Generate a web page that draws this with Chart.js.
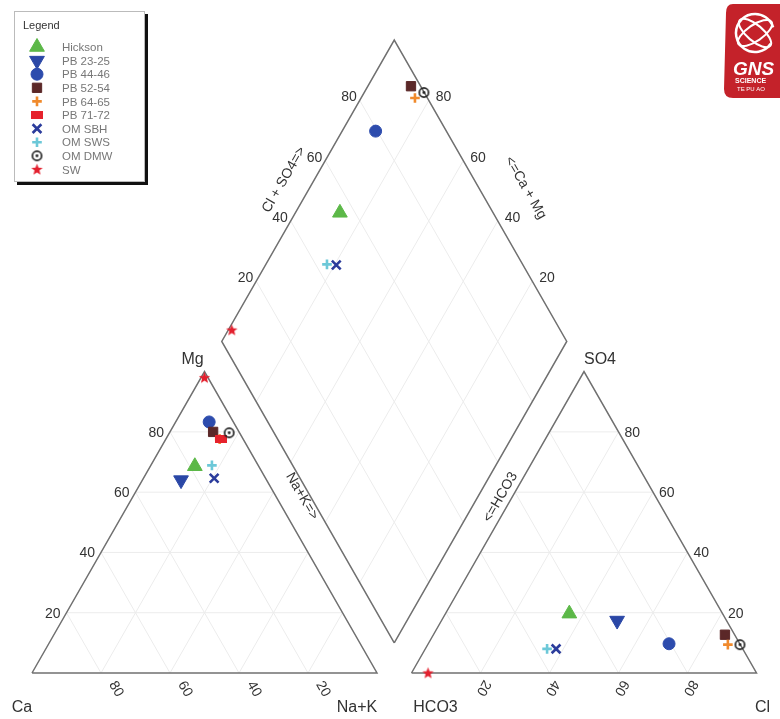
<!DOCTYPE html>
<html>
<head>
<meta charset="utf-8">
<script src="https://cdn.jsdelivr.net/npm/chart.js@4.4.0/dist/chart.umd.min.js"></script>
<style>
html, body { margin: 0; padding: 0; background: #fff; }
#wrap { position: relative; width: 780px; height: 719px; }
</style>
</head>
<body>
<div id="wrap"><canvas id="piper"></canvas></div>
<script>
// samples, in legend order
const samples = ['Hickson', 'PB 23-25', 'PB 44-46', 'PB 52-54', 'PB 64-65', 'PB 71-72', 'OM SBH', 'OM SWS', 'OM DMW', 'SW'];

// cations, % meq (Ca is the rest)
const mgPct  = [68.6, 64.0, 83.3, 80.0, 77.6, 77.6, 64.6, 68.9, 79.7, 98.0];
const naKPct = [12.9, 11.2,  9.7, 12.5, 15.6, 16.0, 20.5, 17.7, 17.3,  1.0];

// anions, % meq (HCO3 is the rest) - PB 71-72 has no anion point on the plot
const so4Pct = [19.7, 17.4,  9.7, 12.7,  9.4, null,  8.0,  8.0,  9.4,  0.0];
const clPct  = [35.9, 50.9, 69.8, 84.5, 87.0, null, 37.9, 35.3, 90.5,  4.8];

// which samples show up in the central diamond
const inDiamond = [true, false, true, true, true, false, true, true, true, true];

const tickVals = [20, 40, 60, 80];

// marker look per sample
const colors = ['#5cb848', '#2a47a6', '#2d4cad', '#5b2828', '#f08a2c', '#e6222c', '#2b3c9c', '#6cc8d8', '#222222', '#e3202e'];

// ---- geometry of the piper plot (unit = side of a triangle) ----
const H = Math.sqrt(3) / 2;
const GAP = 0.1;
const RX = 1 + GAP;

function cationXY(mg, nak) {
    return { x: nak / 100 + mg / 200, y: mg / 100 * H };
}
function anionXY(so4, cl) {
    return { x: RX + cl / 100 + so4 / 200, y: so4 / 100 * H };
}
function diamondXY(camg, clso4) {
    return { x: 1 + GAP / 2 + (clso4 - camg) / 200, y: GAP * H + (camg + clso4) / 100 * H };
}

const BREAK = { x: null, y: null };

// outline of the two triangles and the diamond
let frame = [
    cationXY(0, 0), cationXY(0, 100), cationXY(100, 0), cationXY(0, 0), BREAK,
    anionXY(0, 0), anionXY(0, 100), anionXY(100, 0), anionXY(0, 0), BREAK,
    diamondXY(0, 0), diamondXY(100, 0), diamondXY(100, 100), diamondXY(0, 100), diamondXY(0, 0)
];

// faint 20% grid
let grid = [];
tickVals.forEach(k => {
    grid.push(cationXY(k, 0), cationXY(k, 100 - k), BREAK);
    grid.push(cationXY(0, k), cationXY(100 - k, k), BREAK);
    grid.push(cationXY(0, 100 - k), cationXY(100 - k, 0), BREAK);
    grid.push(anionXY(k, 0), anionXY(k, 100 - k), BREAK);
    grid.push(anionXY(0, k), anionXY(100 - k, k), BREAK);
    grid.push(anionXY(0, 100 - k), anionXY(100 - k, 0), BREAK);
    grid.push(diamondXY(k, 0), diamondXY(k, 100), BREAK);
    grid.push(diamondXY(0, k), diamondXY(100, k), BREAK);
});

// custom marker images
function makeMarker(w, h, draw) {
    const c = document.createElement('canvas');
    c.width = w;
    c.height = h;
    draw(c.getContext('2d'), w, h);
    return c;
}
const redRect = makeMarker(12, 8, (g, w, h) => {
    g.fillStyle = colors[5];
    g.fillRect(0, 0, w, h);
});
const dmwMark = makeMarker(13, 13, g => {
    g.strokeStyle = colors[8];
    g.lineWidth = 1.7;
    g.beginPath();
    g.arc(6.5, 6.5, 4.6, 0, Math.PI * 2);
    g.stroke();
    g.fillStyle = colors[8];
    g.beginPath();
    g.arc(6.5, 6.5, 1.4, 0, Math.PI * 2);
    g.fill();
});
const starMark = makeMarker(13, 13, g => {
    g.fillStyle = colors[9];
    g.beginPath();
    for (let i = 0; i < 10; i++) {
        const r = i % 2 === 0 ? 6 : 2.6;
        const a = -Math.PI / 2 + i * Math.PI / 5;
        g.lineTo(6.5 + r * Math.cos(a), 6.8 + r * Math.sin(a));
    }
    g.closePath();
    g.fill();
});

const markers = [
    { pointStyle: 'triangle', radius: 8.5, rotation: 0, borderWidth: 1 },
    { pointStyle: 'triangle', radius: 8.5, rotation: 180, borderWidth: 1 },
    { pointStyle: 'circle', radius: 6, rotation: 0, borderWidth: 1 },
    { pointStyle: 'rect', radius: 6.6, rotation: 0, borderWidth: 1 },
    { pointStyle: 'cross', radius: 4.8, rotation: 0, borderWidth: 2.6 },
    { pointStyle: redRect, radius: 6, rotation: 0, borderWidth: 0 },
    { pointStyle: 'crossRot', radius: 6.2, rotation: 0, borderWidth: 2.6 },
    { pointStyle: 'cross', radius: 4.8, rotation: 0, borderWidth: 2.6 },
    { pointStyle: dmwMark, radius: 6, rotation: 0, borderWidth: 0 },
    { pointStyle: starMark, radius: 6, rotation: 0, borderWidth: 0 }
];

// one dataset per sample: cation point, anion point, diamond point
let datasets = samples.map((name, i) => {
    let pts = [cationXY(mgPct[i], naKPct[i])];
    if (so4Pct[i] !== null) pts.push(anionXY(so4Pct[i], clPct[i]));
    if (inDiamond[i]) pts.push(diamondXY(100 - naKPct[i], so4Pct[i] + clPct[i]));
    return {
        label: name,
        data: pts,
        order: samples.length - i,
        pointStyle: markers[i].pointStyle,
        pointRadius: markers[i].radius,
        pointRotation: markers[i].rotation,
        pointBorderWidth: markers[i].borderWidth,
        pointBackgroundColor: colors[i],
        pointBorderColor: colors[i]
    };
});

datasets.push({
    label: 'grid', data: grid, showLine: true, spanGaps: false, order: 50,
    borderColor: '#ececec', borderWidth: 1, pointRadius: 0, fill: false
});
datasets.push({
    label: 'frame', data: frame, showLine: true, spanGaps: false, order: 40,
    borderColor: '#707070', borderWidth: 1.5, pointRadius: 0, fill: false
});

const FONT = '"Liberation Sans", Arial, sans-serif';

function drawRotated(ctx, text, x, y, angle) {
    ctx.save();
    ctx.translate(x, y);
    ctx.rotate(angle * Math.PI / 180);
    ctx.textAlign = 'center';
    ctx.textBaseline = 'middle';
    ctx.fillText(text, 0, 0);
    ctx.restore();
}

// axis numbers and titles
const piperText = {
    id: 'piperText',
    beforeDatasetsDraw(chart) {
        const ctx = chart.ctx;
        const xs = chart.scales.x, ys = chart.scales.y;
        const P = p => ({ x: xs.getPixelForValue(p.x), y: ys.getPixelForValue(p.y) });
        ctx.save();
        ctx.fillStyle = '#333';
        ctx.font = '14px ' + FONT;
        tickVals.forEach(k => {
            let p = P(cationXY(k, 0));
            ctx.textAlign = 'right'; ctx.textBaseline = 'middle';
            ctx.fillText(String(k), p.x - 6, p.y + 1);

            p = P(cationXY(0, 100 - k));
            drawRotated(ctx, String(k), p.x + 15, p.y + 16, 60);

            p = P(anionXY(k, 100 - k));
            ctx.textAlign = 'left'; ctx.textBaseline = 'middle';
            ctx.fillText(String(k), p.x + 6, p.y + 1);

            p = P(anionXY(0, k));
            drawRotated(ctx, String(k), p.x + 3, p.y + 15, 120);

            p = P(diamondXY(100, k));
            ctx.textAlign = 'right'; ctx.textBaseline = 'middle';
            ctx.fillText(String(k), p.x - 3, p.y - 3);

            p = P(diamondXY(k, 100));
            ctx.textAlign = 'left'; ctx.textBaseline = 'middle';
            ctx.fillText(String(k), p.x + 7, p.y - 3);
        });

        // corner names
        ctx.font = '16px ' + FONT;
        ctx.textAlign = 'center'; ctx.textBaseline = 'middle';
        let p = P(cationXY(100, 0));
        ctx.fillText('Mg', p.x - 12, p.y - 12);
        p = P(cationXY(0, 0));
        ctx.fillText('Ca', p.x - 10, p.y + 35);
        p = P(cationXY(0, 100));
        ctx.fillText('Na+K', p.x - 20, p.y + 35);
        p = P(anionXY(0, 0));
        ctx.fillText('HCO3', p.x + 24, p.y + 35);
        p = P(anionXY(0, 100));
        ctx.fillText('Cl', p.x + 6, p.y + 35);
        p = P(anionXY(100, 0));
        ctx.fillText('SO4', p.x + 16, p.y - 12);

        // diamond edge titles
        ctx.font = '14px ' + FONT;
        p = P(diamondXY(100, 50));
        drawRotated(ctx, 'Cl + SO4=>', p.x - 24, p.y - 11, -60);
        p = P(diamondXY(50, 100));
        drawRotated(ctx, '<=Ca + Mg', p.x + 45, p.y - 3, 60);
        p = P(diamondXY(50, 0));
        drawRotated(ctx, 'Na+K=>', p.x - 6, p.y + 4, 60);
        p = P(diamondXY(0, 50));
        drawRotated(ctx, '<=HCO3', p.x + 20, p.y + 5, -60);
        ctx.restore();
    }
};

// boxed legend top left + logo top right
const piperLegend = {
    id: 'piperLegend',
    afterDraw(chart) {
        const ctx = chart.ctx;
        ctx.save();
        ctx.fillStyle = '#111';
        ctx.fillRect(17, 14, 131, 171);
        ctx.fillStyle = '#fff';
        ctx.fillRect(14, 11, 131, 171);
        ctx.strokeStyle = '#bbb';
        ctx.lineWidth = 1;
        ctx.strokeRect(14.5, 11.5, 130, 170);

        ctx.font = '11px ' + FONT;
        ctx.fillStyle = '#333';
        ctx.textAlign = 'left'; ctx.textBaseline = 'middle';
        ctx.fillText('Legend', 23, 26);

        samples.forEach((name, i) => {
            const y = 47 + i * 13.6;
            ctx.fillStyle = colors[i];
            ctx.strokeStyle = colors[i];
            ctx.lineWidth = markers[i].borderWidth;
            Chart.helpers.drawPoint(ctx, {
                pointStyle: markers[i].pointStyle,
                radius: markers[i].radius,
                rotation: markers[i].rotation,
                borderWidth: markers[i].borderWidth
            }, 37, y);
            ctx.fillStyle = '#777';
            ctx.font = '11.5px ' + FONT;
            ctx.fillText(name, 62, y + 1);
        });

        // logo
        ctx.fillStyle = '#c4222a';
        ctx.beginPath();
        ctx.moveTo(733, 4);
        ctx.lineTo(790, 4);
        ctx.lineTo(790, 98);
        ctx.lineTo(733, 98);
        ctx.quadraticCurveTo(724, 98, 724, 89);
        ctx.lineTo(726, 13);
        ctx.quadraticCurveTo(726, 4, 733, 4);
        ctx.fill();
        ctx.strokeStyle = '#fff';
        ctx.lineWidth = 2.5;
        ctx.beginPath();
        ctx.arc(755, 33, 19, 0.6, Math.PI * 2 - 0.3);
        ctx.stroke();
        ctx.lineWidth = 2;
        ctx.beginPath();
        ctx.ellipse(755, 33, 20, 8, -0.6, 0, Math.PI * 2);
        ctx.stroke();
        ctx.beginPath();
        ctx.ellipse(755, 33, 20, 8, 0.7, 0, Math.PI * 2);
        ctx.stroke();
        ctx.fillStyle = '#fff';
        ctx.font = 'italic bold 19px ' + FONT;
        ctx.fillText('GNS', 733, 70);
        ctx.font = 'bold 7px ' + FONT;
        ctx.fillText('SCIENCE', 735, 81);
        ctx.font = '6px ' + FONT;
        ctx.fillText('TE PU AO', 737, 89);
        ctx.restore();
    }
};

const chart = new Chart(document.getElementById('piper'), {
    type: 'scatter',
    data: { datasets: datasets },
    options: {
        responsive: true,
        maintainAspectRatio: false,
        animation: false,
        layout: { padding: 0, autoPadding: false },
        plugins: {
            legend: { display: false },
            tooltip: { enabled: false }
        },
        scales: {
            // pixel = 32 + 345*x ; pixel = 673 - 348*y
            x: { type: 'linear', display: false, min: -32 / 345, max: 748 / 345 },
            y: { type: 'linear', display: false, min: -46 / 348, max: 673 / 348 }
        }
    },
    plugins: [piperText, piperLegend]
});
</script>
</body>
</html>
